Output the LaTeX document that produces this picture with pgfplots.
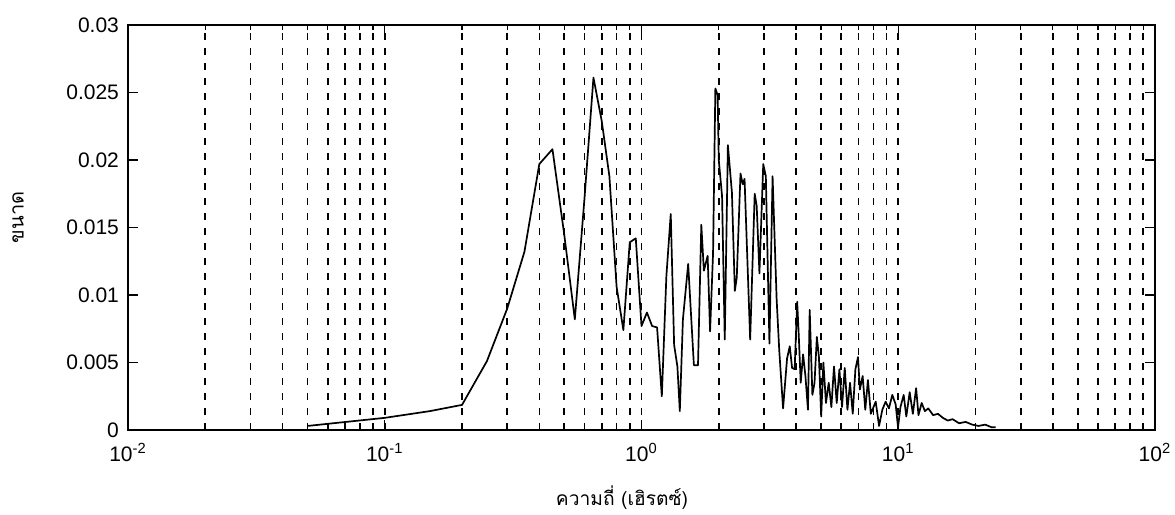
\documentclass[border=0pt]{standalone}
\usepackage{fontspec}
\setmainfont{Liberation Sans}
\newfontfamily\thaifont[Script=Thai]{Loma}
\usepackage{pgfplots}
\pgfplotsset{compat=1.18}

\begin{document}
\begin{tikzpicture}
\useasboundingbox (-64pt,-42.5pt) rectangle (523.5pt,215pt);
\begin{axis}[
    at={(0pt,0pt)}, anchor=south west,
    scale only axis,
    width=513.5pt, height=202.5pt,
    xmode=log,
    xmin=0.01, xmax=100,
    ymin=0, ymax=0.03,
    axis line style={line width=0.75pt},
    tick align=inside,
    tick pos=both,
    major tick length=5pt,
    minor tick length=2.5pt,
    tick style={black, line width=0.6pt},
    xtick={0.01,0.1,1,10,100},
    xticklabels={10\textsuperscript{-2},10\textsuperscript{-1},10\textsuperscript{0},10\textsuperscript{1},10\textsuperscript{2}},
    ytick={0,0.005,0.01,0.015,0.02,0.025,0.03},
    yticklabels={0,0.005,0.01,0.015,0.02,0.025,0.03},
    scaled y ticks=false,
    xmajorgrids, xminorgrids,
    major grid style={black, line width=0.8pt, dash pattern=on 3.5pt off 4pt},
    minor grid style={black, line width=0.8pt, dash pattern=on 3.5pt off 4pt},
    tick label style={font=\fontsize{10.5}{12}\selectfont},
    xticklabel style={yshift=-3pt},
    yticklabel style={xshift=-1pt},
    xlabel={\thaifont ความถี่ (เฮิรตซ์)},
    ylabel={\thaifont ขนาด},
    xlabel style={at={(axis description cs:0.481,-0.168)}, anchor=center, font=\fontsize{9.6}{11}\selectfont},
    ylabel style={at={(axis description cs:-0.107,0.525)}, anchor=center, rotate=0, font=\fontsize{10}{12}\selectfont},
]
\addplot[black, line width=0.85pt, line join=round] coordinates {
(0.05,0.0003) (0.1,0.0009) (0.15,0.0014) (0.2,0.00186) (0.25,0.0051)
(0.3,0.0090) (0.35,0.0132) (0.4,0.0197) (0.45,0.0208) (0.5,0.0145)
(0.55,0.0082) (0.6,0.0172) (0.65,0.0261) (0.7,0.0229) (0.75,0.0188)
(0.8,0.0106) (0.85,0.0074) (0.9,0.0139) (0.95,0.0142) (1.0,0.0077)
(1.05,0.0087) (1.1,0.0077) (1.15,0.0076) (1.2,0.0025) (1.25,0.0114)
(1.3,0.0160) (1.34,0.0063) (1.38,0.0047) (1.41,0.0014) (1.45,0.0082)
(1.52,0.0123) (1.60,0.0048) (1.66,0.0048) (1.71,0.0152) (1.75,0.0118)
(1.81,0.0129) (1.85,0.0073) (1.90,0.0131) (1.94,0.0253) (1.98,0.0248)
(2.00,0.0200) (2.06,0.0173) (2.11,0.0067) (2.17,0.0211) (2.25,0.0176)
(2.31,0.0103) (2.35,0.0113) (2.43,0.0190) (2.48,0.0182) (2.52,0.0186)
(2.65,0.0067) (2.76,0.0175) (2.81,0.0166) (2.88,0.0116) (2.98,0.0197)
(3.05,0.0188) (3.15,0.0064) (3.24,0.0188) (3.36,0.0097) (3.44,0.0059)
(3.56,0.0016) (3.69,0.0053) (3.78,0.0062) (3.86,0.0046) (3.95,0.0045)
(4.04,0.0095) (4.10,0.0069) (4.17,0.0035) (4.26,0.0056) (4.35,0.0040)
(4.45,0.0015) (4.52,0.0089) (4.63,0.0026) (4.72,0.0035) (4.82,0.0069)
(4.91,0.0054) (5.01,0.0010) (5.11,0.0050) (5.23,0.0020) (5.36,0.0035)
(5.49,0.0017) (5.62,0.0047) (5.76,0.0020) (5.90,0.0045) (6.04,0.0017)
(6.19,0.0046) (6.34,0.0015) (6.49,0.0035) (6.65,0.0012) (6.81,0.0045)
(6.97,0.0054) (7.09,0.0030) (7.27,0.0040) (7.44,0.0015) (7.62,0.0037)
(7.82,0.0012) (8.17,0.0021) (8.42,0.0003) (8.67,0.0015) (8.93,0.0021)
(9.20,0.0016) (9.48,0.0026) (9.77,0.0019) (9.98,0.0002) (10.2,0.0017)
(10.5,0.0026) (10.75,0.0010) (11.08,0.0028) (11.4,0.0012) (11.74,0.0031)
(11.99,0.0011) (12.34,0.0020) (12.70,0.0014) (13.09,0.0016) (13.67,0.0011)
(14.28,0.0012) (14.92,0.0009) (15.59,0.0007) (16.28,0.0008) (17.26,0.0005)
(18.30,0.0006) (19.40,0.0004) (20.56,0.0003) (21.80,0.0004) (23.11,0.0002)
(23.94,0.0002)
};
\end{axis}
\end{tikzpicture}
\end{document}
